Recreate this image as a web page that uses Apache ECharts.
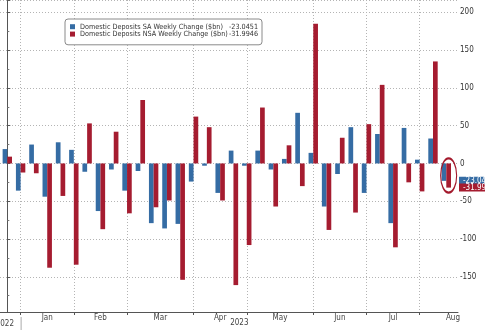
<!DOCTYPE html>
<html>
<head>
<meta charset="utf-8">
<script src="https://cdn.jsdelivr.net/npm/echarts@6/dist/echarts.min.js"></script>
<style>
  html, body { margin: 0; padding: 0; background: #ffffff; }
  #chart { width: 485px; height: 330px; }
</style>
</head>
<body>
<div id="chart"></div>
<script>
// Weekly observation dates (Wednesdays)
const weeks = [
  '2022-12-28',
  '2023-01-04', '2023-01-11', '2023-01-18', '2023-01-25',
  '2023-02-01', '2023-02-08', '2023-02-15', '2023-02-22',
  '2023-03-01', '2023-03-08', '2023-03-15', '2023-03-22', '2023-03-29',
  '2023-04-05', '2023-04-12', '2023-04-19', '2023-04-26',
  '2023-05-03', '2023-05-10', '2023-05-17', '2023-05-24', '2023-05-31',
  '2023-06-07', '2023-06-14', '2023-06-21', '2023-06-28',
  '2023-07-05', '2023-07-12', '2023-07-19', '2023-07-26',
  '2023-08-02', '2023-08-09', '2023-08-16'
];
// Domestic Deposits SA Weekly Change ($bn)
const saChange = [
  19, -36, 25, -44, 28, 18, -11, -63, -8, -36,
  -10, -79, -86, -80, -24, -3, -39, 17, -3, 17,
  -8, 6, 67, 14, -57, -14, 48, -39, 39, -79,
  47, 5, 33, -23.0451
];
// Domestic Deposits NSA Weekly Change ($bn)
const nsaChange = [
  9, -12, -13, -138, -43, -134, 53, -87, 42, -66,
  84, -58, -49, -154, 62, 48, -49, -161, -108, 74,
  -57, 24, -30, 185, -88, 34, -65, 52, 104, -111,
  -25, -37, 135, -31.9946
];
const seriesNames = [
  'Domestic Deposits SA Weekly Change ($bn)',
  'Domestic Deposits NSA Weekly Change ($bn)'
];
const monthNames = ['Jan','Feb','Mar','Apr','May','Jun','Jul','Aug','Sep','Oct','Nov','Dec'];

const BLUE = '#356ca4';
const RED = '#a51c30';
const FONT = '"DejaVu Sans Condensed", "DejaVu Sans", sans-serif';

function parseD(s) { const p = s.split('-'); return new Date(+p[0], +p[1] - 1, +p[2]); }
const monthStarts = [];
for (let i = 1; i < weeks.length; i++) {
  if (parseD(weeks[i]).getMonth() !== parseD(weeks[i - 1]).getMonth()) monthStarts.push(i);
}
const monthMids = [];
const midNames = {};
monthStarts.forEach((s, k) => {
  let next;
  if (k + 1 < monthStarts.length) next = monthStarts[k + 1];
  else {
    const d = parseD(weeks[s]); const m = d.getMonth(); let n = 0;
    while (d.getMonth() === m) { d.setDate(d.getDate() + 7); n++; }
    next = s + n;
  }
  const mid = (s + next) / 2;
  monthMids.push(mid);
  midNames[mid] = monthNames[parseD(weeks[s]).getMonth()];
});

const lastIdx = weeks.length - 1;
const lastSA = saChange[lastIdx];
const lastNSA = nsaChange[lastIdx];
const legendValues = {};
legendValues[seriesNames[0]] = lastSA.toFixed(4);
legendValues[seriesNames[1]] = lastNSA.toFixed(4);

// Layout: axis frame spans x 0..458; week index axis runs from X_MIN to X_MAX over it
const W = 485, FRAME_RIGHT = 27, FRAME_W = W - FRAME_RIGHT;
const X_MIN = -0.55, X_MAX = 33.88;
const Y_MIN = -196.6, Y_MAX = 216.3;
const unit = FRAME_W / (X_MAX - X_MIN);
const barLeft = (-0.5 - X_MIN) * unit;
const barRight = W - (barLeft + weeks.length * unit);
const plotH = 330 - 18;
const pxPerVal = plotH / (Y_MAX - Y_MIN);

const chart = echarts.init(document.getElementById('chart'), null, { renderer: 'canvas' });
const dotted = { color: '#b4b4b4', width: 1, type: [1, 2] };

function tagLine(value, color) {
  return {
    silent: true, symbol: 'none',
    lineStyle: { color: 'rgba(0,0,0,0)', width: 0 },
    label: {
      show: true, position: 'end', distance: FRAME_W - (W - barRight) + 1,
      formatter: () => value.toFixed(4),
      backgroundColor: color, color: '#fff', fontFamily: FONT, fontSize: 8,
      padding: [0, 3, 0, 4], lineHeight: 8
    },
    data: [{ yAxis: value }]
  };
}

// highlight ellipse around latest week (centred between zero and the lowest latest value)
const lowLast = Math.min(lastSA, lastNSA, 0);
const highlight = {
  silent: true,
  symbol: 'circle',
  symbolSize: [16, Math.abs(lowLast) * pxPerVal + 10],
  itemStyle: { color: 'rgba(0,0,0,0)', borderColor: '#a3192c', borderWidth: 1.6 },
  label: { show: false },
  data: [{ coord: [lastIdx, lowLast / 2] }]
};

const option = {
  animation: false,
  backgroundColor: '#ffffff',
  textStyle: { fontFamily: FONT },
  grid: [
    { left: barLeft, right: barRight, top: 0, bottom: 18, containLabel: false },
    { left: 0, right: FRAME_RIGHT, top: 0, bottom: 18, containLabel: false }
  ],
  legend: {
    orient: 'vertical',
    left: 65, top: 19,
    data: seriesNames,
    icon: 'rect',
    itemWidth: 5, itemHeight: 5,
    itemGap: 0,
    padding: [4, 4, 7, 5],
    backgroundColor: '#ffffff',
    borderColor: '#8a8a8a', borderWidth: 1, borderRadius: 3,
    textStyle: {
      fontFamily: FONT, fontSize: 7.2, color: '#333', lineHeight: 7.4,
      rich: {
        n: { fontFamily: FONT, fontSize: 7.2, color: '#333', lineHeight: 7.4, width: 152 },
        v: { fontFamily: FONT, fontSize: 7.2, color: '#333', lineHeight: 7.4, width: 26, align: 'right' }
      }
    },
    itemStyle: { borderWidth: 0 },
    formatter: name => '{n|' + name + '}{v|' + legendValues[name] + '}'
  },
  xAxis: [
    { gridIndex: 0, type: 'category', data: weeks, show: false, boundaryGap: true },
    {
      gridIndex: 1, type: 'value', min: X_MIN, max: X_MAX,
      axisLine: { show: true, onZero: false, lineStyle: { color: '#555', width: 1 } },
      axisTick: { show: true, length: 3, customValues: monthStarts, lineStyle: { color: '#555' } },
      axisLabel: {
        show: true, customValues: monthMids, margin: 2,
        fontFamily: FONT, fontSize: 8, color: '#444',
        formatter: v => midNames[v] || ''
      },
      splitLine: { show: true, lineStyle: dotted }
    }
  ],
  yAxis: [
    { gridIndex: 0, type: 'value', min: Y_MIN, max: Y_MAX, show: false },
    {
      gridIndex: 1, type: 'value', position: 'right',
      min: Y_MIN, max: Y_MAX, splitNumber: 8,
      axisLine: { show: true, lineStyle: { color: '#555', width: 1 } },
      axisTick: { show: true, length: 3, inside: false, lineStyle: { color: '#555' } },
      minorTick: { show: true, splitNumber: 2, length: 2, lineStyle: { color: '#777' } },
      axisLabel: {
        show: true, margin: 2, fontFamily: FONT, fontSize: 8, color: '#333',
        showMinLabel: false, showMaxLabel: false,
        formatter: v => (Math.abs(v % 50) < 1e-6 ? String(v) : '')
      },
      splitLine: { show: true, lineStyle: dotted }
    }
  ],
  series: [
    {
      name: seriesNames[0], type: 'bar', data: saChange,
      xAxisIndex: 0, yAxisIndex: 0,
      barWidth: 4.7, barGap: '0%',
      itemStyle: { color: BLUE },
      markLine: tagLine(lastSA, BLUE)
    },
    {
      name: seriesNames[1], type: 'bar', data: nsaChange,
      xAxisIndex: 0, yAxisIndex: 0,
      barWidth: 4.7, barGap: '0%',
      itemStyle: { color: RED },
      markLine: tagLine(lastNSA, RED),
      markPoint: highlight
    }
  ]
};
chart.setOption(option);

const pJan = chart.convertToPixel({ xAxisIndex: 1, yAxisIndex: 1 }, [monthStarts[0], 0]);
const pEnd = chart.convertToPixel({ xAxisIndex: 1, yAxisIndex: 1 }, [X_MAX, Y_MIN]);

chart.setOption({
  graphic: [
    {
      type: 'text', x: 14, y: 324,
      style: { text: '2022', fill: '#444', font: '8px ' + FONT, align: 'right', verticalAlign: 'middle' }
    },
    {
      type: 'line', shape: { x1: pJan[0] + 0.5, y1: 317, x2: pJan[0] + 0.5, y2: 330 },
      style: { stroke: '#aaa', lineWidth: 1 }
    },
    {
      type: 'text', x: (pJan[0] + pEnd[0]) / 2, y: 322.5,
      style: { text: '2023', fill: '#444', font: '8px ' + FONT, align: 'center', verticalAlign: 'middle' }
    }
  ]
});
</script>
</body>
</html>
